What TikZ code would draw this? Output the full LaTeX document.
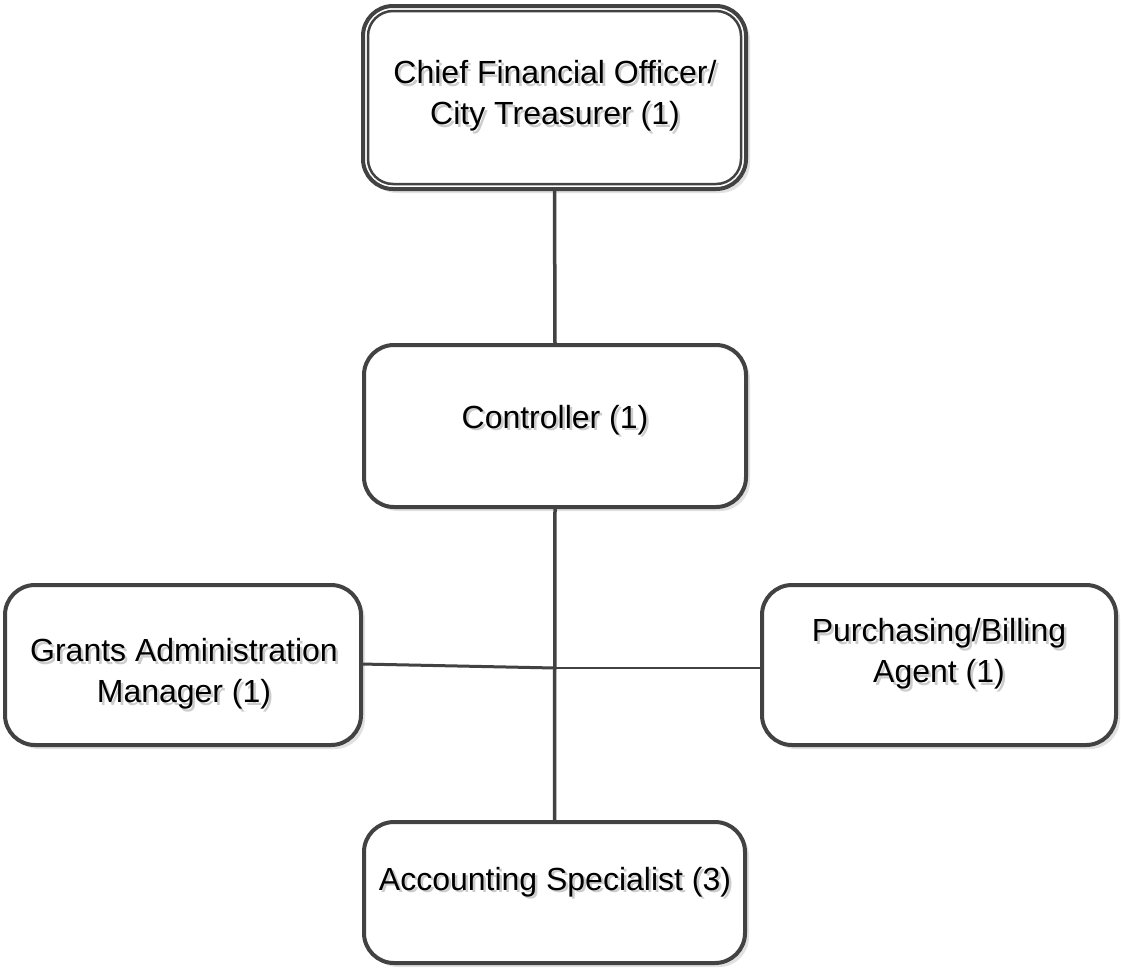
\documentclass[tikz,border=0pt]{standalone}
\usepackage{fontspec}
\setmainfont{Liberation Sans}
\usetikzlibrary{shadows}
\definecolor{linegray}{RGB}{66,66,66}
\definecolor{shadegray}{RGB}{225,225,225}
% text with a soft grey shadow behind it
\newcommand\shd[1]{\leavevmode\rlap{\kern2.5pt\raisebox{-2.5pt}{\color{black!20}#1}}#1}
\tikzset{
  orgbox/.style={draw=linegray, line width=4pt, fill=white, rounded corners=30pt,
    inner sep=0pt, outer sep=0pt,
    drop shadow={shadow xshift=4pt, shadow yshift=-4pt, fill=shadegray, opacity=1}},
  boxtext/.style={inner sep=0pt, align=center, font=\fontsize{32}{41}\selectfont},
  link/.style={draw=linegray, line width=3.5pt},
}
\begin{document}
\begin{tikzpicture}[x=1pt,y=-1pt]
\useasboundingbox (0,0) rectangle (1121,970);

% boxes
\node[orgbox, minimum width=383pt, minimum height=183pt] (cfo) at (554.5,97.5) {};
\draw[draw=linegray, line width=2.5pt, rounded corners=25pt]
  ([shift={(5pt,-5pt)}]cfo.north west) rectangle ([shift={(-5pt,5pt)}]cfo.south east);
\node[orgbox, minimum width=382pt, minimum height=162pt] (ctrl) at (555,426) {};
\node[orgbox, minimum width=356pt, minimum height=160pt] (grants) at (183,665) {};
\node[orgbox, minimum width=354pt, minimum height=160pt] (purch) at (939,665) {};
\node[orgbox, minimum width=381pt, minimum height=141pt] (acct) at (554.5,892.5) {};

% box titles
\node[boxtext] (cfoText) at (555,97) {\shd{Chief Financial Officer/}\\\shd{City Treasurer (1)}};
\node[boxtext] (ctrlText) at (555,421) {\shd{Controller (1)}};
\node[boxtext] (grantsText) at (184,675) {\shd{Grants Administration}\\\shd{Manager (1)}};
\node[boxtext] (purchText) at (939,655) {\shd{Purchasing/Billing}\\\shd{Agent (1)}};
\node[boxtext] (acctText) at (555,883) {\shd{Accounting Specialist (3)}};

% connectors
\coordinate (hub) at (555,668);
\draw[link] (cfo.south) -- (ctrl.north);
\draw[link] (ctrl.south) -- (acct.north);
\draw[link, line width=3pt] (grants.east |- 0,664) -- (hub);
\draw[link, line width=2.2pt] (hub) -- (purch.west |- hub);
\end{tikzpicture}
\end{document}
